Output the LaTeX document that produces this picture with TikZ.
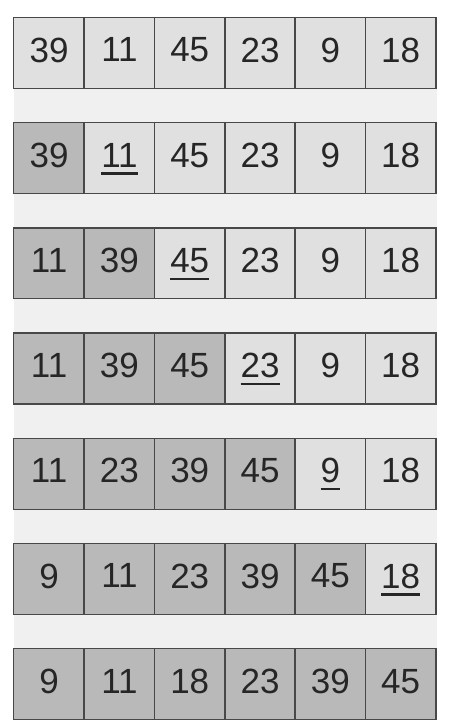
\documentclass[tikz,border=0pt]{standalone}
\usepackage{fontspec}
\setmainfont{Liberation Sans}
\usepackage{tikz}

\definecolor{cellfree}{HTML}{E0E0E0}
\definecolor{cellsorted}{HTML}{B9B9B9}
\definecolor{cellline}{HTML}{484848}
\definecolor{backpanel}{HTML}{F0F0F0}
\newcommand{\keyval}[1]{\setbox0\hbox{#1}\rlap{\rule[-7.5pt]{\wd0}{2.2pt}}\box0}

\begin{document}
\begin{tikzpicture}[x=1pt, y=-1pt,
  cell/.style={minimum width=70.3pt, minimum height=70.5pt, inner sep=0pt, text depth=6pt,
    text=black!85, font=\fontsize{35}{40}\selectfont},
  cellborder/.style={draw=cellline, line width=1.3pt}]
\useasboundingbox (0,0) rectangle (448,728);
\fill[backpanel] (14,17.7) rectangle (436.5,720.3);

% one row per pass, sorted part in dark grey, current key underlined
\foreach \r/\vals in {0/{39,11,45,23,9,18}, 1/{39,11,45,23,9,18}, 2/{11,39,45,23,9,18},
  3/{11,39,45,23,9,18}, 4/{11,23,39,45,9,18}, 5/{9,11,23,39,45,18}, 6/{9,11,18,23,39,45}}{
  \foreach \v [count=\c from 0] in \vals {
    \ifnum\c<\r \def\shade{cellsorted}\else\def\shade{cellfree}\fi
    \ifnum\r=6 \def\shade{cellsorted}\fi
    \def\num{\v}
    \ifnum\c=\r \ifnum\r>0 \ifnum\r<6 \def\num{\keyval{\v}}\fi\fi\fi
    \node[cell, fill=\shade] (c\r\c) at ({49.15+70.3*\c}, {52.95+105.2*\r}) {\num};
  }
}
% borders on top of all fills
\foreach \r in {0,...,6}
  \foreach \c in {0,...,5}
    \draw[cellborder] (c\r\c.north west) rectangle (c\r\c.south east);

\end{tikzpicture}
\end{document}
